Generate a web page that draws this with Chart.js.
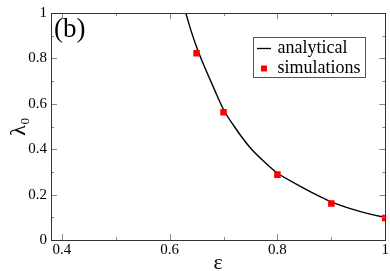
<!DOCTYPE html>
<html>
<head>
<meta charset="utf-8">
<script src="https://cdn.jsdelivr.net/npm/chart.js@4/dist/chart.umd.min.js"></script>
<style>
  html, body { margin: 0; padding: 0; background: #fff; }
  #wrap { width: 390px; height: 271px; position: relative; }
</style>
</head>
<body>
<div id="wrap"><canvas id="c"></canvas></div>
<script>
// values
const curveEps    = [0.63, 0.64, 0.65, 0.66, 0.68, 0.70, 0.72, 0.75, 0.78, 0.80, 0.84, 0.88, 0.90, 0.94, 0.97, 1.00];
const curveLambda = [1.00, 0.92, 0.85, 0.79, 0.68, 0.575, 0.50, 0.405, 0.335, 0.295, 0.24, 0.19, 0.168, 0.135, 0.115, 0.10];
const simEps      = [0.65, 0.70, 0.80, 0.90, 1.00];
const simLambda   = [0.823, 0.563, 0.288, 0.161, 0.097];
const xTicks      = [0.4, 0.6, 0.8, 1];
const xMinor      = [0.5, 0.7, 0.9];
const yTicks      = [0, 0.2, 0.4, 0.6, 0.8, 1];
const yMinor      = [0.1, 0.3, 0.5, 0.7, 0.9];
const seriesNames = ["analytical", "simulations"];

const serif = "'Liberation Serif', 'Times New Roman', serif";

const frame = {
  id: "frame",
  afterDatasetsDraw(chart) {
    const { ctx, chartArea: a, scales: { x, y } } = chart;
    ctx.save();
    // inward ticks on all four sides
    ctx.strokeStyle = "#888";
    ctx.lineWidth = 1;
    const tickX = (v, len) => {
      const px = Math.round(x.getPixelForValue(v)) + 0.5;
      ctx.beginPath();
      ctx.moveTo(px, a.bottom); ctx.lineTo(px, a.bottom - len);
      ctx.moveTo(px, a.top); ctx.lineTo(px, a.top + len);
      ctx.stroke();
    };
    const tickY = (v, len) => {
      const py = Math.round(y.getPixelForValue(v)) + 0.5;
      ctx.beginPath();
      ctx.moveTo(a.left, py); ctx.lineTo(a.left + len, py);
      ctx.moveTo(a.right, py); ctx.lineTo(a.right - len, py);
      ctx.stroke();
    };
    xTicks.forEach(v => tickX(v, 6));
    xMinor.forEach(v => tickX(v, 3));
    yTicks.forEach(v => tickY(v, 6));
    yMinor.forEach(v => tickY(v, 3));
    // box
    ctx.strokeStyle = "#333";
    ctx.strokeRect(Math.round(a.left) + 0.5, Math.round(a.top) + 0.5,
                   Math.round(a.right - a.left), Math.round(a.bottom - a.top));
    // panel label
    ctx.fillStyle = "#000";
    ctx.font = "27px " + serif;
    ctx.textBaseline = "alphabetic";
    ctx.textAlign = "left";
    ctx.fillText("(b)", a.left + 3, a.top + 24);
    // legend
    const lx = 253.5, ly = 37.5, lw = 112, lh = 40;
    ctx.fillStyle = "#fff";
    ctx.fillRect(lx, ly, lw, lh);
    ctx.strokeStyle = "#555";
    ctx.strokeRect(lx, ly, lw, lh);
    ctx.strokeStyle = "#000";
    ctx.lineWidth = 1.3;
    ctx.beginPath();
    ctx.moveTo(257, 48.5); ctx.lineTo(271, 48.5);
    ctx.stroke();
    ctx.fillStyle = "#f00";
    ctx.fillRect(261, 65.5, 6, 6);
    ctx.fillStyle = "#000";
    ctx.font = "18px " + serif;
    ctx.textBaseline = "middle";
    ctx.fillText(seriesNames[0], 277.5, 48.5);
    ctx.fillText(seriesNames[1], 277.5, 68.5);
    ctx.restore();
  }
};

new Chart(document.getElementById("c"), {
  type: "scatter",
  data: {
    datasets: [
      {
        label: seriesNames[0],
        data: curveEps.map((e, i) => ({ x: e, y: curveLambda[i] })),
        showLine: true,
        borderColor: "#000",
        borderWidth: 1.4,
        pointRadius: 0,
        cubicInterpolationMode: "monotone",
        order: 2
      },
      {
        label: seriesNames[1],
        data: simEps.map((e, i) => ({ x: e, y: simLambda[i] })),
        backgroundColor: "#f00",
        borderWidth: 0,
        pointStyle: "rect",
        pointRadius: 4.6,
        order: 1
      }
    ]
  },
  options: {
    responsive: true,
    maintainAspectRatio: false,
    animation: false,
    layout: { padding: { top: 6, right: 4, left: 0, bottom: 0 } },
    plugins: { legend: { display: false }, tooltip: { enabled: false } },
    scales: {
      x: {
        min: 0.38,
        max: 1.0,
        afterBuildTicks: s => { s.ticks = xTicks.map(v => ({ value: v })); },
        afterFit: s => { s.height = 31; },
        grid: { display: false, drawTicks: false },
        border: { display: false },
        ticks: {
          padding: 1,
          color: "#000",
          maxRotation: 0,
          font: { family: serif, size: 15 },
          callback: v => String(v)
        },
        title: {
          display: true,
          text: "ε",
          color: "#000",
          font: { family: serif, size: 22 },
          padding: { top: 0, bottom: -5 }
        }
      },
      y: {
        min: 0,
        max: 1,
        afterBuildTicks: s => { s.ticks = yTicks.map(v => ({ value: v })); },
        afterFit: s => { s.width = 51; },
        grid: { display: false, drawTicks: false },
        border: { display: false },
        ticks: {
          padding: 4,
          color: "#000",
          font: { family: serif, size: 15 },
          callback: v => String(v)
        },
        title: {
          display: true,
          text: "λ₀",
          color: "#000",
          font: { family: serif, size: 22 },
          padding: { top: 6, bottom: 0 }
        }
      }
    }
  },
  plugins: [frame]
});
</script>
</body>
</html>
